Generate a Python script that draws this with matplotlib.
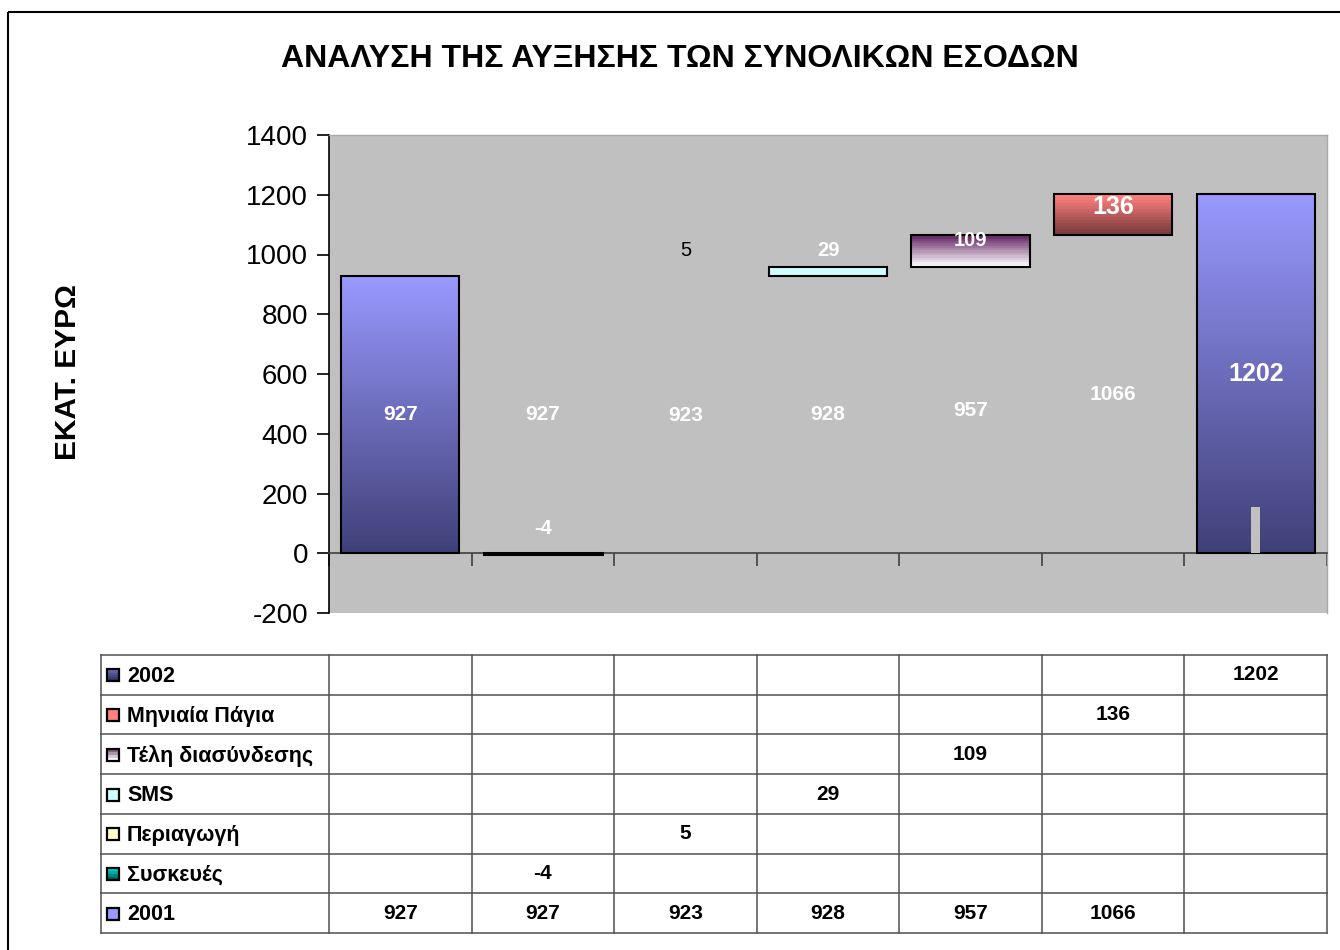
import numpy as np
import matplotlib
matplotlib.use("Agg")
import matplotlib.pyplot as plt
from matplotlib.patches import Rectangle
from matplotlib.colors import to_rgb
from matplotlib import font_manager

# ---- data -------------------------------------------------------------
nan = np.nan
base_2001 = [927, 927, 923, 928, 957, 1066, nan]      # 2001 (first column visible, rest is the invisible base)
devices = [nan, -4, nan, nan, nan, nan, nan]           # Συσκευές
roaming = [nan, nan, 5, nan, nan, nan, nan]            # Περιαγωγή
sms = [nan, nan, nan, 29, nan, nan, nan]               # SMS
interconnect = [nan, nan, nan, nan, 109, nan, nan]     # Τέλη διασύνδεσης
monthly = [nan, nan, nan, nan, nan, 136, nan]          # Μηνιαία Πάγια
total_2002 = [nan, nan, nan, nan, nan, nan, 1202]      # 2002
stub = [nan, nan, nan, nan, nan, nan, 155]             # narrow grey stub inside the 2002 column

row_names = ["2002", "Μηνιαία Πάγια", "Τέλη διασύνδεσης", "SMS",
             "Περιαγωγή", "Συσκευές", "2001"]
title = "ΑΝΑΛΥΣΗ ΤΗΣ ΑΥΞΗΣΗΣ ΤΩΝ ΣΥΝΟΛΙΚΩΝ ΕΣΟΔΩΝ"
ylabel = "ΕΚΑΤ. ΕΥΡΩ"
yticks = list(range(-200, 1401, 200))

# heights at which the increment labels sit
inc_label_y = [nan, 84, 1015, 1015, 1048, 1159, nan]

# ---- fonts ------------------------------------------------------------
available = {f.name for f in font_manager.fontManager.ttflist}
SANS = "Liberation Sans" if "Liberation Sans" in available else "DejaVu Sans"
NARROW = "Liberation Sans Narrow" if "Liberation Sans Narrow" in available else SANS
plt.rcParams["font.family"] = [SANS, "DejaVu Sans"]

W, H = 1340, 950
fig = plt.figure(figsize=(W / 100, H / 100), dpi=100)
fig.patch.set_facecolor("white")

# plot area in pixel coordinates
L, R, T, B = 329, 1327, 135, 613
ax = fig.add_axes([L / W, 1 - B / H, (R - L) / W, (B - T) / H])
ax.set_facecolor("#C0C0C0")

x = np.arange(7)
bw = 0.83


def shade(axis, patch, top, bottom, steps=None, z=3):
    """Fill a rectangle with a vertical colour ramp from top to bottom."""
    x0, y0 = patch.get_x(), patch.get_y()
    w, h = patch.get_width(), patch.get_height()
    n = steps or 200
    t = np.linspace(0, 1, n)[:, None]
    c0, c1 = np.array(to_rgb(top)), np.array(to_rgb(bottom))
    img = (c0 * (1 - t) + c1 * t)[:, None, :]
    im = axis.imshow(img, extent=(x0, x0 + w, y0, y0 + h), origin="upper",
                     aspect="auto", interpolation="nearest", zorder=z)
    im.set_clip_path(patch)
    return im


base = np.array(base_2001, dtype=float)

# 2001 – only the first column is drawn, the others act as a hidden base
b2001 = ax.bar(x[:1], base[:1], width=bw, facecolor="none",
               edgecolor="black", linewidth=1.5, zorder=4)
shade(ax, b2001[0], "#9999FF", "#404078")

# Συσκευές (negative, hangs from zero)
dv = np.array(devices, dtype=float)
ax.bar(x, dv, width=bw, color="#009999", edgecolor="black", linewidth=2.2, zorder=4)

# Περιαγωγή (too thin to show a fill)
ax.bar(x, roaming, bottom=base, width=bw, facecolor="none", linewidth=0, zorder=4)

# SMS
ax.bar(x, sms, bottom=base, width=bw, color="#CCFFFF", edgecolor="black",
       linewidth=1.5, zorder=4)

# Τέλη διασύνδεσης
bint = ax.bar(x, interconnect, bottom=base, width=bw, facecolor="none",
              edgecolor="black", linewidth=1.5, zorder=4)
shade(ax, bint[4], "#602060", "#FFFFFF", steps=14)

# Μηνιαία Πάγια
bmon = ax.bar(x, monthly, bottom=base, width=bw, facecolor="none",
              edgecolor="black", linewidth=1.5, zorder=4)
shade(ax, bmon[5], "#FF8080", "#7A3C3C", steps=14)

# 2002
b2002 = ax.bar(x, total_2002, width=bw, facecolor="none", edgecolor="black",
               linewidth=1.5, zorder=4)
shade(ax, b2002[6], "#9999FF", "#404078")

# grey stub
ax.bar(x, stub, width=0.06, color="#C0C0C0", linewidth=0, zorder=5)

# ---- value labels -----------------------------------------------------
for i, v in enumerate(base_2001):
    if not np.isnan(v):
        ax.text(i, v / 2, f"{v:.0f}", ha="center", va="center", color="white",
                fontsize=15, fontweight="bold", zorder=6)

increments = [devices, roaming, sms, interconnect, monthly]
for series in increments:
    for i, v in enumerate(series):
        if np.isnan(v):
            continue
        col = "black" if series is roaming else "white"
        size = 18 if series is monthly else 14.5
        weight = "normal" if series is roaming else "bold"
        ax.text(i, inc_label_y[i], f"{v:.0f}", ha="center", va="center",
                color=col, fontsize=size, fontweight=weight,
                family=[NARROW, "DejaVu Sans"], zorder=6)

for i, v in enumerate(total_2002):
    if not np.isnan(v):
        ax.text(i, v / 2, f"{v:.0f}", ha="center", va="center", color="white",
                fontsize=18, fontweight="bold", family=[NARROW, "DejaVu Sans"], zorder=6)

# ---- axes styling -----------------------------------------------------
ax.set_xlim(-0.5, 6.5)
ax.set_ylim(-200, 1400)
ax.set_yticks(yticks)
ax.set_yticklabels([str(t) for t in yticks], fontsize=20)
ax.tick_params(axis="y", direction="out", length=9, width=1.2, pad=6, colors="black")
ax.set_xticks([])
ax.set_xticks(np.arange(-0.5, 7.0, 1.0), minor=True)
ax.tick_params(axis="x", which="minor", direction="out", length=9, width=1.2,
               color="#404040", labelbottom=False)
ax.spines["bottom"].set_position(("data", 0))
ax.spines["bottom"].set_color("#404040")
ax.spines["bottom"].set_linewidth(1.2)
ax.spines["left"].set_color("black")
ax.spines["left"].set_linewidth(1.2)
for s in ("top", "right"):
    ax.spines[s].set_color("#A8A8A8")
    ax.spines[s].set_linewidth(1)

# ---- overlay in pixel coordinates: title, frame, data table ------------
ov = fig.add_axes([0, 0, 1, 1], facecolor="none")
ov.set_xlim(0, W)
ov.set_ylim(H, 0)
ov.axis("off")

ov.add_patch(Rectangle((8, 12), W + 20, H + 20, fill=False, edgecolor="black", lw=1.5))

ov.text(680, 59, title, ha="center", va="center", fontsize=23, fontweight="bold")
ov.text(68, 372, ylabel, ha="center", va="center", rotation=90, fontsize=21.5,
        fontweight="bold")

# column boundaries follow the category axis
col_edges = [ax.transData.transform((e, 0))[0] for e in np.arange(-0.5, 7.0, 1.0)]
tab_left, tab_top, tab_bot = 101, 655, 933
row_h = (tab_bot - tab_top) / len(row_names)

line_kw = dict(color="#505050", lw=1.1)
for k in range(len(row_names) + 1):
    yy = tab_top + k * row_h
    ov.plot([tab_left, col_edges[-1]], [yy, yy], **line_kw)
for xe in [tab_left] + col_edges:
    ov.plot([xe, xe], [tab_top, tab_bot], **line_kw)

rows = {
    "2002": total_2002,
    "Μηνιαία Πάγια": monthly,
    "Τέλη διασύνδεσης": interconnect,
    "SMS": sms,
    "Περιαγωγή": roaming,
    "Συσκευές": devices,
    "2001": base_2001,
}
keys = {
    "2002": ("#6A6AB0", "#303060", 6),
    "Μηνιαία Πάγια": ("#FF8080", "#FF8080", None),
    "Τέλη διασύνδεσης": ("#806080", "#FFFFFF", 4),
    "SMS": ("#CCFFFF", "#CCFFFF", None),
    "Περιαγωγή": ("#FFFFCC", "#FFFFCC", None),
    "Συσκευές": ("#00CCCC", "#006060", 4),
    "2001": ("#9999FF", "#9999FF", None),
}

centers = [(col_edges[i] + col_edges[i + 1]) / 2 for i in range(7)]
for r, name in enumerate(row_names):
    yc = tab_top + (r + 0.5) * row_h
    top_c, bot_c, steps = keys[name]
    key = Rectangle((107, yc - 5.5), 12, 12, facecolor="none", edgecolor="black",
                    lw=1.6, zorder=4)
    ov.add_patch(key)
    kimg = np.linspace(0, 1, steps or 2)[:, None]
    cimg = (np.array(to_rgb(top_c)) * (1 - kimg) + np.array(to_rgb(bot_c)) * kimg)[:, None, :]
    im = ov.imshow(cimg, extent=(107, 119, yc + 6.5, yc - 5.5), origin="upper",
                   aspect="auto", interpolation="nearest", zorder=3)
    im.set_clip_path(key)
    ov.text(127, yc + 1.5, name, ha="left", va="center", fontsize=15.5,
            fontweight="bold")
    for i, v in enumerate(rows[name]):
        if not np.isnan(v):
            ov.text(centers[i], yc, f"{v:.0f}", ha="center", va="center",
                    fontsize=15, fontweight="bold")

ov.set_xlim(0, W)
ov.set_ylim(H, 0)
ax.set_xlim(-0.5, 6.5)
ax.set_ylim(-200, 1400)

fig.savefig("out.png", dpi=100, facecolor="white")
